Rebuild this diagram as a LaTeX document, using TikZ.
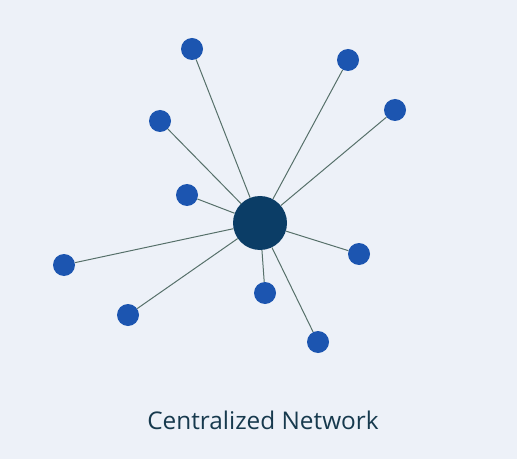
\documentclass[tikz,border=0pt]{standalone}
\usepackage{fontspec}
\setmainfont{Open Sans}
\usepackage{tikz}
\definecolor{bgpale}{HTML}{EDF1F8}
\definecolor{hubblue}{HTML}{0B3D66}
\definecolor{leafblue}{HTML}{1C55B0}
\definecolor{linkgray}{HTML}{56706A}
\definecolor{titleteal}{HTML}{173A4E}

\begin{document}
\begin{tikzpicture}[x=0.03cm, y=-0.03cm,
  hub/.style={circle, fill=hubblue, minimum size=54*0.03cm, inner sep=0pt},
  leaf/.style={circle, fill=leafblue, minimum size=22*0.03cm, inner sep=0pt},
  link/.style={draw=linkgray, line width=0.85pt}]
  % Hintergrund
  \fill[bgpale] (0,0) rectangle (517,459);
  \useasboundingbox (0,0) rectangle (517,459);

  % Zentraler Knoten
  \node[hub] (hub) at (260,223) {};

  % Äußere Knoten und Verbindungen
  \foreach \x/\y/\n in {192/49/a, 348/60/b, 395/110/c, 160/121/d, 187/195/e,
                        64/265/f, 128/315/g, 265/293/h, 359/254/i, 318/342/j} {
    \node[leaf] (\n) at (\x,\y) {};
    \draw[link] (hub) -- (\n);
  }

  \node[font=\fontsize{20.8}{24}\selectfont, text=titleteal] (title) at (263,420) {Centralized Network};
\end{tikzpicture}
\end{document}
